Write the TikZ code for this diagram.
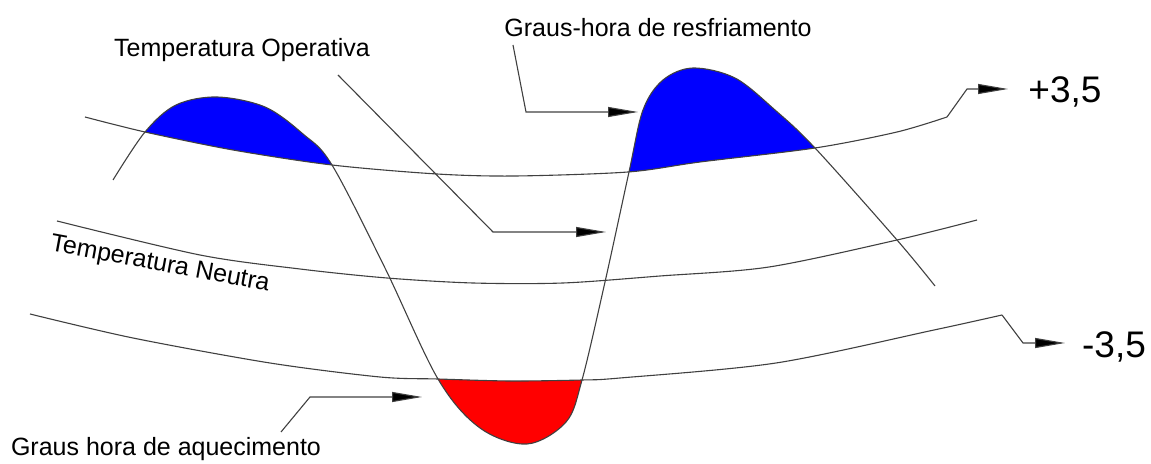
\documentclass[tikz,border=0pt]{standalone}
\usepackage{fontspec}
\setmainfont{Liberation Sans}
\usetikzlibrary{arrows.meta}
\begin{document}
\begin{tikzpicture}[x=0.5pt,y=-0.5pt,
  curve/.style={line width=0.55pt, draw=black!75},
  leader/.style={line width=0.55pt, draw=black!75, -{Triangle[length=15pt,width=5pt,fill=black]}},
  lbl/.style={font=\fontsize{12.5}{15}\selectfont, inner sep=0pt, anchor=center},
  num/.style={font=\fontsize{18.5}{22}\selectfont, inner sep=0pt, anchor=center}]
\useasboundingbox (0,0) rectangle (1151,464);
\def\sinepath{plot[smooth,tension=0.55] coordinates {(113,180) (145,132) (176,105) (217,97) (265,107) (303,134) (332,165) (385,268) (438,379) (480,428) (527,444) (566,422) (582,380) (605,282) (629,172) (643,110) (663,80) (693,68) (735,78) (775,110) (815,148) (897,240) (935,286)}}
\def\upperpath{plot[smooth,tension=0.5] coordinates {(85,117) (145,132) (233,150) (332,165) (437,174) (515,176) (628,172) (700,162) (815,148) (897,132) (947,117)}}
\def\middlepath{plot[smooth,tension=0.5] coordinates {(57,221) (200,255) (300,269) (387,278) (473,283) (563,283) (660,276) (769,267) (897,240) (977,220)}}
\def\lowerpath{plot[smooth,tension=0.5] coordinates {(30,314) (133,338) (270,363) (380,377) (438,379) (510,381) (582,380) (620,378) (776,363) (934,330) (1002,315)}}
% blue: above upper curve and below operative curve
\begin{scope}
  \clip \upperpath -- (1000,-20) -- (60,-20) -- cycle;
  \fill[blue] \sinepath -- (935,500) -- (113,500) -- cycle;
\end{scope}
% red: below lower curve and above operative curve
\begin{scope}
  \clip \lowerpath -- (1010,500) -- (20,500) -- cycle;
  \fill[red] \sinepath -- (935,-20) -- (113,-20) -- cycle;
\end{scope}
% curves
\draw[curve] \sinepath;
\draw[curve] \upperpath;
\draw[curve] \middlepath;
\draw[curve] \lowerpath;
% labels
\node[lbl] (op) at (242,50) {Temperatura Operativa};
\node[lbl] (rf) at (658,28) {Graus-hora de resfriamento};
\node[lbl] (aq) at (166,449) {Graus hora de aquecimento};
\node[lbl, rotate=-10.5] (ne) at (160,265) {Temperatura Neutra};
\node[num] (p35) at (1065,92) {+3,5};
\node[num] (m35) at (1114,347) {-3,5};
% leader coordinates
\coordinate (opA) at (338,75);
\coordinate (opB) at (493,232);
\coordinate (opT) at (606,232);
\coordinate (rfA) at (513,45);
\coordinate (rfB) at (526,112);
\coordinate (rfT) at (638,112);
\coordinate (aqA) at (281,432);
\coordinate (aqB) at (310,397);
\coordinate (aqT) at (422,397);
\coordinate (upE) at (947,117);
\coordinate (upB) at (967,89);
\coordinate (upT) at (1008,89);
\coordinate (loE) at (1002,315);
\coordinate (loB) at (1023,343);
\coordinate (loT) at (1065,343);
\draw[leader] (opA) -- (opB) -- (opT);
\draw[leader] (rfA) -- (rfB) -- (rfT);
\draw[leader] (aqA) -- (aqB) -- (aqT);
\draw[leader] (upE) -- (upB) -- (upT);
\draw[leader] (loE) -- (loB) -- (loT);
\end{tikzpicture}
\end{document}
